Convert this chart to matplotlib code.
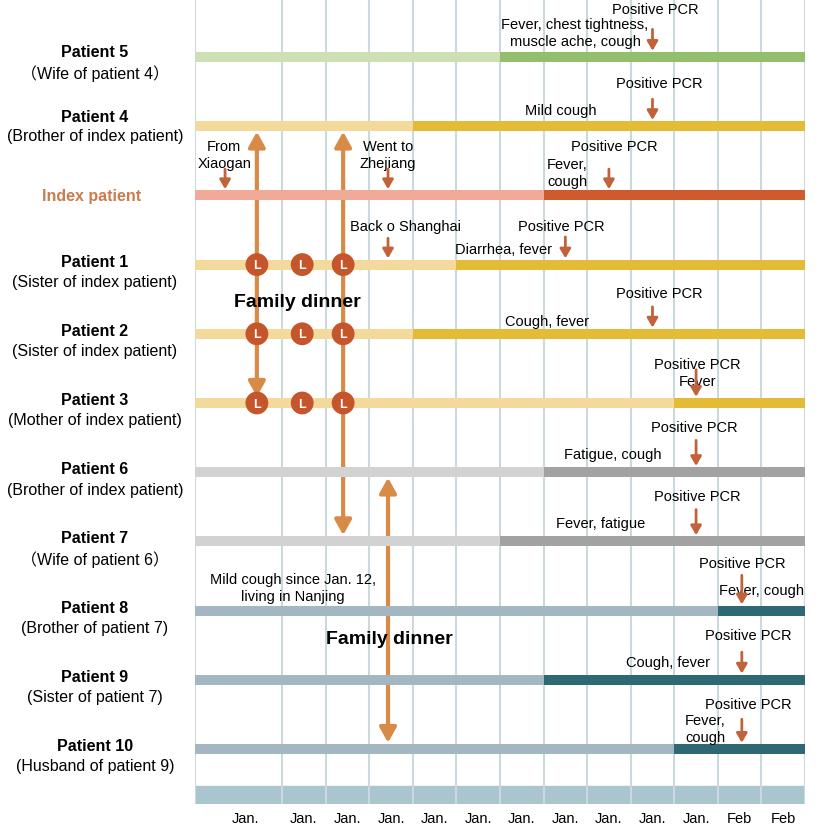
import matplotlib
matplotlib.use("Agg")
import matplotlib.pyplot as plt
import matplotlib.transforms as mtransforms
from matplotlib.patches import FancyArrowPatch

plt.rcParams['font.family'] = ['Liberation Sans', 'Noto Sans CJK SC', 'DejaVu Sans']

# ---------------- data ----------------
patients = ["Patient 5", "Patient 4", "Index patient", "Patient 1", "Patient 2",
            "Patient 3", "Patient 6", "Patient 7", "Patient 8", "Patient 9", "Patient 10"]
relations = ["（Wife of patient 4）", "(Brother of index patient)", "",
             "(Sister of index patient)", "(Sister of index patient)",
             "(Mother of index patient)", "(Brother of index patient)",
             "（Wife of patient 6）", "(Brother of patient 7)",
             "(Sister of patient 7)", "(Husband of patient 9)"]
onset_day = [7, 5, 8, 6, 5, 11, 8, 7, 12, 8, 11]
pcr_day = [10.5, 10.5, 9.5, 8.5, 10.5, 11.5, 11.5, 11.5, 12.55, 12.55, 12.55]
symptoms = ["Fever, chest tightness,\nmuscle ache, cough", "Mild cough", "Fever,\ncough",
            "Diarrhea, fever", "Cough, fever", "Fever", "Fatigue, cough",
            "Fever, fatigue", "Fever, cough", "Cough, fever", "Fever,\ncough"]
light_colors = ["#cde0b3", "#f3da9c", "#f0ab98", "#f3da9c", "#f3da9c", "#f3da9c",
                "#d2d2d2", "#d2d2d2", "#a2b7c1", "#a2b7c1", "#a2b7c1"]
dark_colors = ["#93bf6c", "#e3bb37", "#cf5a2e", "#e3bb37", "#e3bb37", "#e3bb37",
               "#a2a2a2", "#a2a2a2", "#2e6873", "#2e6873", "#2e6873"]

travel_day = [0.69, 4.43, 4.43]
travel_row = [2, 2, 3]
travel_text = ["From\nXiaogan", "Went to\nZhejiang", "Back o Shanghai"]

dinner_day = [1.42, 2.46, 3.40]
dinner_rows = [3, 4, 5]

contact_day = [1.42, 3.40, 4.43]
contact_from = [1, 1, 6]
contact_to = [5, 7, 10]

tick_pos = [1.15, 2.5, 3.5, 4.5, 5.5, 6.5, 7.5, 8.5, 9.5, 10.5, 11.5, 12.5, 13.5]
tick_labels = ["Jan."] * 11 + ["Feb", "Feb"]
day_start, day_end = 0, 14
grid_days = [0, 2, 3, 4, 5, 6, 7, 8, 9, 10, 11, 12, 13, 14]

# ---------------- layout (text positions, data units) ----------------
pcr_text_xy = [(10.56, -0.70), (10.65, -0.62), (9.62, -0.72), (8.40, -0.56), (10.65, -0.59),
               (11.52, -0.56), (11.45, -0.65), (11.52, -0.65), (12.55, -0.69),
               (12.69, -0.65), (12.69, -0.65)]
sym_text_xy = [(8.72, -0.35), (8.40, -0.23), (8.08, -0.33), (7.09, -0.23), (8.08, -0.19),
               (11.54, -0.32), (9.59, -0.26), (9.32, -0.27), (13.01, -0.30),
               (10.86, -0.25), (11.25, -0.30)]
sym_ha = ["center", "center", "left", "center", "center", "center", "center",
          "center", "center", "center", "left"]
pcr_arrow_tail = [-0.40, -0.39, -0.38, -0.40, -0.39, -0.48, -0.46, -0.46, -0.51, -0.40, -0.43]
travel_text_xy = [(0.67, -0.59), (4.43, -0.59), (4.84, -0.56)]
name_dy = [-0.08, -0.14, 0, -0.05, -0.05, -0.05, -0.05, -0.05, -0.05, -0.05, -0.05]
rel_dy = [0.22, 0.14, 0, 0.245, 0.245, 0.245, 0.245, 0.245, 0.25, 0.245, 0.245]

# ---------------- figure ----------------
fig = plt.figure(figsize=(8.29, 8.28), dpi=100)
ax = fig.add_axes([195 / 829, 23 / 828, 610 / 829, 805 / 828])
ax.set_xlim(day_start, day_end)
ax.set_ylim(10.795, -0.838)
for s in ax.spines.values():
    s.set_visible(False)

BAR_H = 0.145
SMALL_ARROW = "#c2623a"
BIG_ARROW = "#d88b47"

# bottom band
ax.axhspan(10.535, 10.795, color="#a9c5ce", zorder=0)
# grid lines
for g in grid_days:
    ax.axvline(g, color="#cbd9df", lw=1.5, zorder=1)

rows = list(range(len(patients)))
# bars
ax.barh(rows, [o - day_start for o in onset_day], left=day_start, height=BAR_H,
        color=light_colors, zorder=3)
ax.barh(rows, [day_end - o for o in onset_day], left=onset_day, height=BAR_H,
        color=dark_colors, zorder=3)

# big contact arrows
for x, r0, r1 in zip(contact_day, contact_from, contact_to):
    arr = FancyArrowPatch((x, r0 + 0.08), (x, r1 - 0.09),
                          arrowstyle="<|-|>,head_length=9,head_width=5",
                          color=BIG_ARROW, lw=3, shrinkA=0, shrinkB=0, zorder=2)
    ax.add_patch(arr)

# dinner circles
for r in dinner_rows:
    ax.scatter(dinner_day, [r] * len(dinner_day), s=270, color="#c5552a",
               edgecolor="none", zorder=5)
    for d in dinner_day:
        ax.text(d, r + 0.01, "L", color="white", fontsize=9, fontweight="bold",
                ha="center", va="center", zorder=6)


def small_arrow(x, y0, y1):
    ax.add_patch(FancyArrowPatch((x, y0), (x, y1),
                                 arrowstyle="-|>,head_length=5.5,head_width=3.2",
                                 color=SMALL_ARROW, lw=2, shrinkA=0, shrinkB=0, zorder=8))


# PCR + symptom annotations
for r in rows:
    px, py = pcr_text_xy[r]
    ax.text(px, r + py, "Positive PCR", fontsize=10.5, ha="center", va="center", zorder=7)
    sx, sy = sym_text_xy[r]
    ax.text(sx, r + sy, symptoms[r], fontsize=10.5, ha=sym_ha[r], va="center",
            multialignment=("left" if sym_ha[r] == "left" else "center"),
            linespacing=1.25, zorder=7)
    small_arrow(pcr_day[r], r + pcr_arrow_tail[r], r - 0.09)

# travel annotations
for d, r, t, (tx, ty) in zip(travel_day, travel_row, travel_text, travel_text_xy):
    ax.text(tx, r + ty, t, fontsize=10.5, ha="center", va="center", linespacing=1.25, zorder=7)
    small_arrow(d, r - 0.38, r - 0.09)

ax.text(2.25, 8 - 0.33, "Mild cough since Jan. 12,\nliving in Nanjing", fontsize=10.5,
        ha="center", va="center", linespacing=1.25, zorder=7)

ax.text(2.34, 3.53, "Family dinner", fontsize=14, fontweight="bold",
        ha="center", va="center", zorder=7)
ax.text(4.45, 8.40, "Family dinner", fontsize=14, fontweight="bold",
        ha="center", va="center", zorder=7)

# left labels
trans = mtransforms.blended_transform_factory(fig.transFigure, ax.transData)
for r in rows:
    if relations[r]:
        ax.text(95 / 829, r + name_dy[r], patients[r], transform=trans, fontsize=11.5,
                fontweight="bold", ha="center", va="center")
        ax.text(95 / 829, r + rel_dy[r], relations[r], transform=trans, fontsize=11.5,
                ha="center", va="center")
    else:
        ax.text(92 / 829, r, patients[r], transform=trans, fontsize=11.5,
                fontweight="bold", color="#c97c4c", ha="center", va="center")

ax.set_xticks(tick_pos)
ax.set_xticklabels(tick_labels, fontsize=10.5)
ax.tick_params(axis="x", length=0, pad=5)
ax.set_yticks([])

fig.savefig("out.png", dpi=100, facecolor="white")
